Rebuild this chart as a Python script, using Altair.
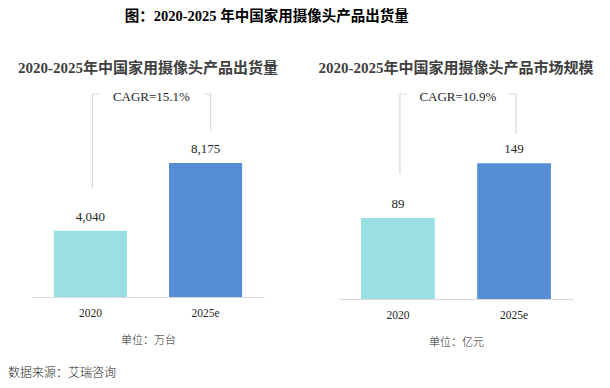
import altair as alt
import pandas as pd

# ---------------- data ----------------
years = ["2020", "2025e"]
shipments = [4040, 8175]            # 万台
market_size = [89, 149]             # 亿元
shipment_labels = ["4,040", "8,175"]
market_labels = ["89", "149"]
bar_colors = ["#9ADFE4", "#558ED5"]

main_title = "图：2020-2025 年中国家用摄像头产品出货量"
panel_titles = ["2020-2025年中国家用摄像头产品出货量", "2020-2025年中国家用摄像头产品市场规模"]
units = ["单位：万台", "单位：亿元"]
cagr_texts = ["CAGR=15.1%", "CAGR=10.9%"]
source_text = "数据来源：艾瑞咨询"

# y-axis maxima and CAGR bracket levels (data units)
y_max = [12880, 233.8]
bracket_top = [12393, 225]
bracket_left_low = [6654, 137]
bracket_right_low = [10134, 181]

SERIF = "Liberation Serif, Noto Sans CJK SC"
CJK = "Noto Sans CJK SC, sans-serif"
GRAY = "#D9D9D9"
TXT = "#262626"


def panel(i, values, labels, width, height, leg_offsets, tick_offsets, cagr_dx, with_source=False):
    df = pd.DataFrame({"year": years, "value": values, "label": labels})
    x = alt.X(
        "year:N", sort=years,
        scale=alt.Scale(paddingInner=0.365, paddingOuter=0.19),
        axis=alt.Axis(
            title=units[i], labelAngle=0, ticks=False, domainColor=GRAY, domainWidth=1.2,
            labelFont=SERIF, labelFontSize=11.5, labelColor=TXT, labelPadding=10,
            titleFont=CJK, titleFontSize=11, titleFontWeight=300, titleColor=TXT,
            titlePadding=16,
        ),
    )
    y = alt.Y("value:Q", scale=alt.Scale(domain=[0, y_max[i]], nice=False, zero=True), axis=None)

    base = alt.Chart(df)
    bars = base.mark_bar().encode(
        x=x, y=y,
        color=alt.Color("year:N", scale=alt.Scale(domain=years, range=bar_colors), legend=None),
    )
    vals = base.mark_text(dy=-14, baseline="middle", font=SERIF, fontSize=13, color=TXT).encode(
        x=x, y=y, text="label:N"
    )

    legs = pd.DataFrame({
        "year": years,
        "low": [bracket_left_low[i], bracket_right_low[i]],
        "high": [bracket_top[i], bracket_top[i]],
    })
    layers = [bars, vals]
    for k in range(2):
        leg_df = legs.iloc[[k]]
        layers.append(
            alt.Chart(leg_df).mark_rule(color=GRAY, strokeWidth=1.3, xOffset=leg_offsets[k]).encode(
                x=x, y=alt.Y("low:Q", scale=alt.Scale(domain=[0, y_max[i]], nice=False), axis=None), y2="high:Q"
            )
        )
        layers.append(
            alt.Chart(leg_df).mark_tick(color=GRAY, thickness=1.3, size=7, orient="horizontal",
                                        xOffset=tick_offsets[k]).encode(
                x=x, y=alt.Y("high:Q", scale=alt.Scale(domain=[0, y_max[i]], nice=False), axis=None)
            )
        )
    cagr_df = pd.DataFrame({"year": [years[0]], "high": [bracket_top[i]], "t": [cagr_texts[i]]})
    layers.append(
        alt.Chart(cagr_df).mark_text(dx=cagr_dx, dy=3, baseline="middle", font=SERIF, fontSize=13,
                                     color=TXT).encode(
            x=x, y=alt.Y("high:Q", scale=alt.Scale(domain=[0, y_max[i]], nice=False), axis=None), text="t:N"
        )
    )
    if with_source:
        src_df = pd.DataFrame({"t": [source_text]})
        layers.append(
            alt.Chart(src_df).mark_text(align="left", baseline="middle", font=CJK, fontSize=12,
                                        fontWeight=300, color=TXT).encode(
                x=alt.value(-24), y=alt.value(287), text="t:N"
            )
        )
    return alt.layer(*layers).properties(
        width=width, height=height,
        title=alt.TitleParams(panel_titles[i], font=SERIF, fontSize=15, fontWeight="bold",
                              color="#404040", anchor="middle", offset=10),
    )


left = panel(0, shipments, shipment_labels, 232, 211, [2, 5], [5.5, 1.5], 61, with_source=True)
right = panel(1, market_size, market_labels, 234, 213, [2, 2], [5.5, -1.5], 60)

chart = alt.hconcat(
    left, right, spacing=75, bounds="flush",
    title=alt.TitleParams(main_title, font=SERIF, fontSize=14.5, fontWeight="bold", color="black",
                          anchor="middle", dx=-34, offset=37),
).properties(
    padding={"left": 0, "top": 0, "right": 0, "bottom": 0}
).configure_view(stroke=None)

chart.save("out.html", embed_options={"renderer": "svg", "actions": False})
